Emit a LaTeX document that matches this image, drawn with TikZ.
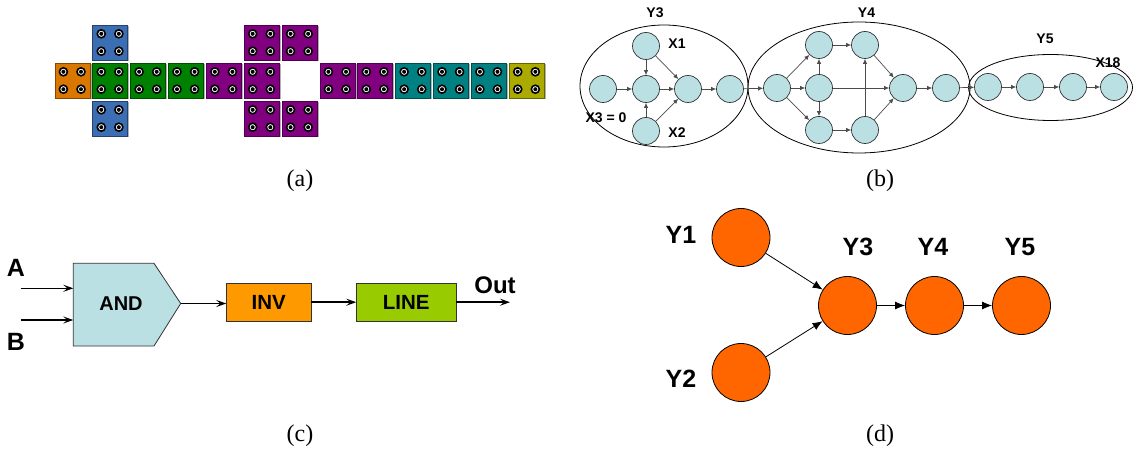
\documentclass[tikz,border=0pt]{standalone}
\usepackage{fontspec}
\setmainfont{Liberation Serif}
\newfontfamily\lsans{Liberation Sans}
\usetikzlibrary{arrows.meta,shapes.geometric}
\definecolor{tOrange}{RGB}{217,119,0}
\definecolor{tBlue}{RGB}{60,110,180}
\definecolor{tGreen}{RGB}{0,128,0}
\definecolor{tPurple}{RGB}{128,0,128}
\definecolor{tTeal}{RGB}{0,128,128}
\definecolor{tOlive}{RGB}{170,170,0}
\definecolor{lcyan}{RGB}{186,224,227}
\definecolor{dorange}{RGB}{255,102,0}
\definecolor{invor}{RGB}{255,153,0}
\definecolor{lgreen}{RGB}{153,204,0}
\newcommand\tileat[3]{%
  \fill[black!30] (#1+1.5,#2+1.5) rectangle ++(35,35);
  \draw[fill=#3, draw=#3!60!black, line width=0.8pt] (#1,#2) rectangle ++(35,35);
  \foreach \dx in {8.4,26} \foreach \dy in {8.8,26.2} {
    \draw[line width=1.6pt, fill=white] (#1+\dx,#2+\dy) circle (4pt);
    \fill (#1+\dx,#2+\dy) circle (2pt);}
}
\begin{document}
\begin{tikzpicture}[x=1pt,y=-1pt,
  captext/.style={font=\fontsize{24}{26}\selectfont},
  bnode/.style={circle, fill=lcyan, draw=black!80, line width=0.7pt, minimum size=27pt, inner sep=0pt},
  bedge/.style={draw=black!70, line width=0.7pt, -{Latex[length=5pt,width=4.5pt]}},
  blab/.style={font=\lsans\bfseries\fontsize{14}{16}\selectfont, inner sep=0pt},
  grp/.style={ellipse, draw=black, line width=0.8pt, inner sep=0pt},
  cedge/.style={line width=1.4pt, -{Stealth[length=10pt,width=7pt,inset=4pt]}},
  clab/.style={font=\lsans\bfseries\fontsize{25}{27}\selectfont, inner sep=0pt},
  cbox/.style={draw=black!80, line width=0.8pt, minimum height=37.7pt, inner sep=0pt, font=\lsans\bfseries\fontsize{20.5}{22}\selectfont},
  dnode/.style={circle, fill=dorange, draw=black, line width=0.8pt, minimum size=58pt, inner sep=0pt},
  dedge/.style={line width=0.8pt, -{Latex[length=10pt,width=8pt]}},
  dlab/.style={font=\lsans\bfseries\fontsize{25}{27}\selectfont, inner sep=0pt}]
\useasboundingbox (0,0) rectangle (1135,454);
% ---------------- (a)
\def\px{37.86}
\foreach \k/\c in {0/tOrange,1/tGreen,2/tGreen,3/tGreen,4/tPurple,5/tPurple,7/tPurple,8/tPurple,9/tTeal,10/tTeal,11/tTeal,12/tOlive}{
  \tileat{55+\k*\px}{63}{\c}}
\foreach \k/\c in {1/tBlue,5/tPurple,6/tPurple}{
  \tileat{55+\k*\px}{25}{\c}
  \tileat{55+\k*\px}{101}{\c}}
\node[captext] (capa) at (300,181) {(a)};
% ---------------- (b)
\node[grp, minimum width=168pt, minimum height=122pt] (g3) at (664,86) {};
\node[grp, minimum width=222pt, minimum height=131pt] (g4) at (859,87.5) {};
\node[grp, minimum width=164pt, minimum height=66pt] (g5) at (1050.5,87.5) {};
\node[blab] (ly3) at (655,13) {Y3};
\node[blab] (ly4) at (866.5,13) {Y4};
\node[blab] (ly5) at (1045,38.5) {Y5};
\node[bnode] (a1) at (603,89) {};
\node[bnode] (a2) at (646,89) {};
\node[bnode] (a3) at (688,89) {};
\node[bnode] (a4) at (730,89) {};
\node[bnode] (x1) at (646,46) {};
\node[bnode] (x2) at (646,131) {};
\node[blab] (lx1) at (677,44) {X1};
\node[blab] (lx2) at (677,133) {X2};
\node[blab] (lx3) at (606,118) {X3 = 0};
\node[bnode] (b1) at (777,88) {};
\node[bnode] (b2) at (819,45) {};
\node[bnode] (b3) at (819,88) {};
\node[bnode] (b4) at (819,130) {};
\node[bnode] (b5) at (865,45) {};
\node[bnode] (b6) at (865,130) {};
\node[bnode] (b7) at (903,88) {};
\node[bnode] (b8) at (946,88) {};
\node[bnode] (c1) at (988,87) {};
\node[bnode] (c2) at (1030,87) {};
\node[bnode] (c3) at (1073,87) {};
\node[bnode] (c4) at (1114,87) {};
\node[blab] (lx18) at (1108,63) {X18};
\draw[bedge] (a1) -- (a2);
\draw[bedge] (x1) -- (a2);
\draw[bedge] (x2) -- (a2);
\draw[bedge] (a2) -- (a3);
\draw[bedge] (x1) -- (a3);
\draw[bedge] (x2) -- (a3);
\draw[bedge] (a3) -- (a4);
\draw[bedge] (a4) -- (b1);
\draw[bedge] (b1) -- (b2);
\draw[bedge] (b1) -- (b3);
\draw[bedge] (b1) -- (b4);
\draw[bedge] (b3) -- (b2);
\draw[bedge] (b3) -- (b4);
\draw[bedge] (b3) -- (b7);
\draw[bedge] (b2) -- (b5);
\draw[bedge] (b4) -- (b6);
\draw[bedge] (b6) -- (b5);
\draw[bedge] (b5) -- (b7);
\draw[bedge] (b6) -- (b7);
\draw[bedge] (b7) -- (b8);
\draw[bedge] (b8) -- (c1);
\draw[bedge] (c1) -- (c2);
\draw[bedge] (c2) -- (c3);
\draw[bedge] (c3) -- (c4);
\node[captext] (capb) at (880,181) {(b)};
% ---------------- (c)
\coordinate (andnw) at (73.3,263.3);
\coordinate (andsw) at (73.3,346);
\coordinate (andtip) at (180.7,303.5);
\fill[lcyan] (andnw) -- (154,263.3) -- (andtip) -- (154,346) -- (andsw) -- cycle;
\draw[black!80, line width=0.8pt] (andnw) -- (154,263.3) -- (andtip) -- (154,346) -- (andsw) -- cycle;
\node[font=\lsans\bfseries\fontsize{20}{22}\selectfont, inner sep=0pt] (and) at (121,304) {AND};
\node[clab] (la) at (16,268) {A};
\node[clab] (lb) at (16,341.5) {B};
\coordinate (ina) at (20.7,288.3);
\coordinate (inb) at (20.7,320);
\draw[cedge] (ina) -- (ina -| andnw);
\draw[cedge] (inb) -- (inb -| andnw);
\node[cbox, fill=invor, minimum width=84.3pt] (inv) at (268.8,302.2) {INV};
\node[cbox, fill=lgreen, minimum width=99.3pt] (line) at (406.3,302.2) {LINE};
\coordinate (outp) at (510,302.2);
\draw[cedge] (andtip) -- (andtip -| inv.west);
\draw[cedge] (inv) -- (line);
\draw[cedge] (line) -- (outp);
\node[clab, font=\lsans\bfseries\fontsize{24}{26}\selectfont] (lout) at (495,285) {Out};
\node[captext] (capc) at (300,436) {(c)};
% ---------------- (d)
\node[dnode] (y1) at (741,237.5) {};
\node[dnode] (y2) at (741,372.5) {};
\node[dnode] (y3) at (847.5,305.5) {};
\node[dnode] (y4) at (934.5,305.5) {};
\node[dnode] (y5) at (1021.5,305.5) {};
\node[dlab] (ly1) at (681,235) {Y1};
\node[dlab] (ly2) at (681,379) {Y2};
\node[dlab] (ldy3) at (858,247) {Y3};
\node[dlab] (ldy4) at (933,247) {Y4};
\node[dlab] (ldy5) at (1020,247) {Y5};
\draw[dedge] (y1) -- (y3);
\draw[dedge] (y2) -- (y3);
\draw[dedge] (y3) -- (y4);
\draw[dedge] (y4) -- (y5);
\node[captext] (capd) at (880,436) {(d)};
\end{tikzpicture}
\end{document}
